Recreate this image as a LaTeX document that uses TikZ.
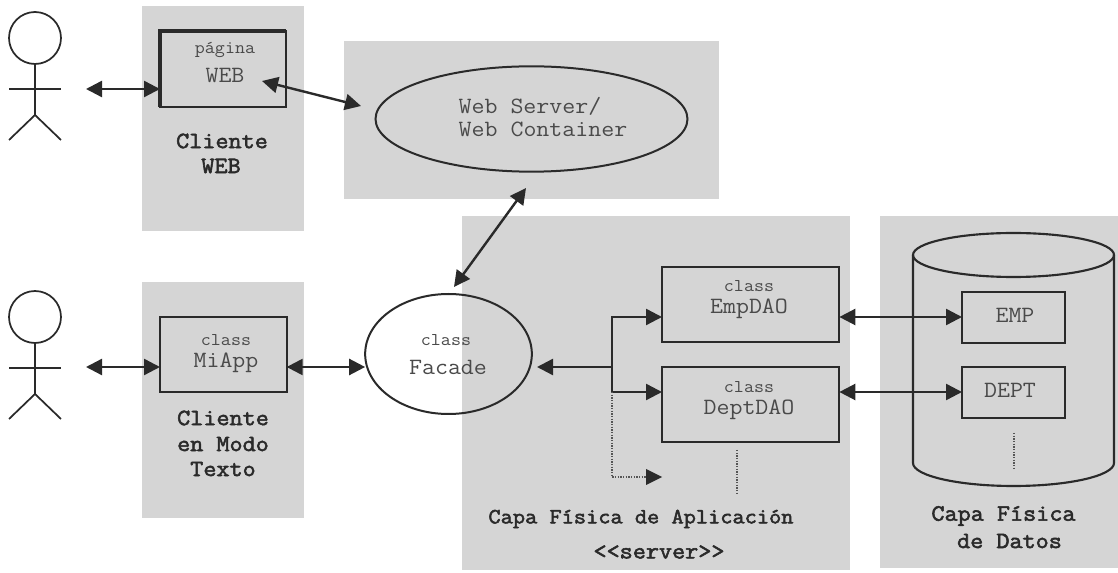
\documentclass[tikz,border=0pt]{standalone}
\usepackage{fontspec}
\usetikzlibrary{arrows.meta,shapes.geometric}
\newfontfamily\lightmono[FakeStretch=1.08]{Latin Modern Mono}
\newfontfamily\heavymono[FakeStretch=1.09,FakeBold=2.4]{Latin Modern Mono}
\definecolor{region}{HTML}{D5D5D5}
\definecolor{ink}{HTML}{2A2A2A}
\definecolor{thintext}{HTML}{4A4A4A}
\tikzset{
  x=0.75pt,y=-0.75pt,
  regionbox/.style={fill=region,draw=none},
  objbox/.style={draw=ink,line width=1.6pt,inner sep=0pt,outer sep=0pt,anchor=north west},
  objoval/.style={draw=ink,line width=1.5pt,ellipse,inner sep=0pt,outer sep=0pt},
  small/.style={font=\lightmono\fontsize{13.5}{15}\selectfont,text=thintext,inner sep=0pt},
  big/.style={font=\lightmono\fontsize{17.5}{19}\selectfont,text=thintext,inner sep=0pt},
  caption/.style={font=\heavymono\fontsize{17.5}{19}\selectfont,text=ink,inner sep=0pt},
  capsmall/.style={font=\heavymono\fontsize{16.3}{19}\selectfont,text=ink,inner sep=0pt},
  link/.style={draw=ink,line width=1.8pt,{Triangle[length=12pt,width=12pt]}-{Triangle[length=12pt,width=12pt]}},
  oneway/.style={draw=ink,line width=1.8pt,-{Triangle[length=12pt,width=12pt]}},
  dots/.style={draw=ink!80,line width=1.4pt,dash pattern=on 1.1pt off 0.9pt},
  actorline/.style={draw=ink,line width=1.3pt},
}
\begin{document}
\begin{tikzpicture}
\useasboundingbox (0,0) rectangle (1118,573);
% regions
\fill[regionbox] (142,6) rectangle (304,231);
\fill[regionbox] (344,41) rectangle (719,199);
\fill[regionbox] (142,282) rectangle (304,518);
\fill[regionbox] (462,216) rectangle (850,570);
\fill[regionbox] (880,216) rectangle (1118,568);
% actors
\foreach \yy/\bw in {38/1.3pt,317/2pt}{
  \draw[actorline] (35,\yy) circle[radius=26*0.75pt];
  \draw[actorline,line width=\bw] (35,\yy+26) -- (35,\yy+77);
  \draw[actorline] (9,\yy+51) -- (61,\yy+51);
  \draw[actorline] (9,\yy+102) -- (35,\yy+77) -- (61,\yy+102);
}
\coordinate (actorA) at (86,89);
\coordinate (actorB) at (86,367);
% boxes
\node[objbox,minimum width=94.5pt,minimum height=57pt] (web) at (160,31) {};
\draw[draw=ink,line width=2.8pt] (web.south west) -- (web.north west) -- (web.north east);
\node[objbox,minimum width=95pt,minimum height=56pt] (miapp) at (160,317) {};
\node[objbox,minimum width=133pt,minimum height=56pt] (emp) at (662,267) {};
\node[objbox,minimum width=133pt,minimum height=56pt] (dept) at (662,367) {};
\node[objbox,minimum width=77pt,minimum height=38pt] (emptab) at (962,292) {};
\node[objbox,minimum width=77pt,minimum height=38pt] (depttab) at (962,367) {};
% ovals
\node[objoval,minimum width=234pt,minimum height=79pt] (server) at (531.5,119) {};
\node[objoval,minimum width=125pt,minimum height=90pt] (facade) at (448.5,354) {};
% cylinder
\draw[draw=ink,line width=1.6pt] (913,255) -- (913,463) arc[start angle=180,end angle=360,x radius=100.5*0.75pt,y radius=23*0.75pt,] -- (1114,255);
\draw[draw=ink,line width=1.6pt] (1013.5,255) ellipse[x radius=100.5*0.75pt,y radius=22*0.75pt];
% texts
\node[small] (t1) at (225,50) {página};
\node[big] (t2) at (225,75) {WEB};
\node[caption] (t3) at (222,141) {Cliente};
\node[caption] (t4) at (221,166) {WEB};
\node[big] (t5) at (530,106) {Web Server/};
\node[big] (t6) at (543,129) {Web Container};
\node[small] (t7) at (226,340) {class};
\node[big] (t8) at (226,363) {MiApp};
\node[caption] (t9) at (223,418) {Cliente};
\node[caption] (t10) at (223,444) {en Modo};
\node[caption] (t11) at (223,469) {Texto};
\node[small] (t12) at (446,340) {class};
\node[big] (t13) at (448,367) {Facade};
\node[small] (t14) at (749,286) {class};
\node[big] (t15) at (749,309) {EmpDAO};
\node[small] (t16) at (749,387) {class};
\node[big] (t17) at (749,410) {DeptDAO};
\node[big] (t18) at (1015,315) {EMP};
\node[big] (t19) at (1010,390) {DEPT};
\node[capsmall] (t20) at (641,519) {Capa Física de Aplicación};
\node[caption] (t21) at (659,552) {<{}<server>{}>};
\node[caption] (t22) at (1003.5,516) {Capa Física};
\node[caption] (t23) at (1009.5,541) {de Datos};
% connectors
\coordinate (webin) at (262,81);
\coordinate (srvin) at (361,106);
\coordinate (srvout) at (526,188);
\coordinate (facin) at (454,287);
\coordinate (busjoin) at (612,367);
\coordinate (busend) at (662,477);
\draw[link] (actorA) -- (web.west |- actorA);
\draw[link] (webin) -- (srvin);
\draw[link] (srvout) -- (facin);
\draw[link] (actorB) -- (miapp.west |- actorB);
\draw[link] (miapp.east |- actorB) -- (facade.west |- actorB);
\draw[oneway] (busjoin) -- (537,367);
\draw[oneway] (busjoin) |- (emp.west |- 0,317);
\draw[oneway] (busjoin) |- (dept.west |- 0,392);
\draw[dots] (612,392) |- (647,477);
\fill[ink] (busend) -- (646,469) -- (646,485) -- cycle;
\draw[link] (emp.east |- 0,317) -- (emptab.west |- 0,317);
\draw[link] (dept.east |- 0,392) -- (depttab.west |- 0,392);
\draw[dots] (737,450) -- (737,495);
\draw[dots] (1014,433) -- (1014,468);
\end{tikzpicture}
\end{document}
